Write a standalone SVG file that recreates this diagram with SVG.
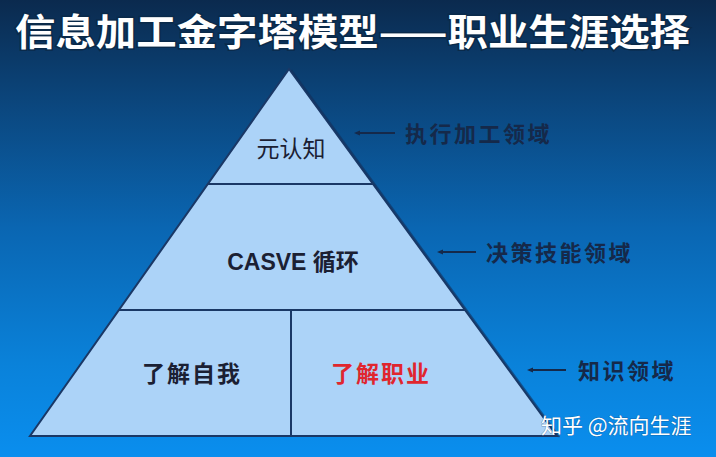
<svg xmlns="http://www.w3.org/2000/svg" width="716" height="457" viewBox="0 0 716 457">
  <defs>
    <linearGradient id="bg" x1="0" y1="0" x2="0" y2="1">
      <stop offset="0" stop-color="#0b2a4e"/>
      <stop offset="0.2" stop-color="#0b4378"/>
      <stop offset="0.5" stop-color="#0a66b2"/>
      <stop offset="0.8" stop-color="#0a82da"/>
      <stop offset="1" stop-color="#0a8eee"/>
    </linearGradient>
    <marker id="dot" viewBox="0 0 6 6" refX="3" refY="3" markerWidth="6" markerHeight="6" markerUnits="userSpaceOnUse">
      <path d="M0,3 L6,0.5 L6,5.5 Z" fill="#15294a"/>
    </marker>
    <style>
      .edge { stroke: #1a3866; stroke-width: 2; fill: none; }
      .t { font-family: "Liberation Sans", "Noto Sans CJK SC", sans-serif; fill: #1b2033; font-size: 23px; text-anchor: middle; }
      .lbl { font-family: "Noto Sans CJK SC", sans-serif; fill: #15294a; font-size: 22px; font-weight: bold; letter-spacing: 2.5px; }
      .arrow { stroke: #15294a; stroke-width: 2; marker-start: url(#dot); }
    </style>
  </defs>
  <rect width="716" height="457" fill="url(#bg)"/>

  <text x="15" y="46" font-family="Noto Sans CJK SC, sans-serif" font-size="37" font-weight="bold" fill="#ffffff" stroke="#0a2a4a" stroke-width="3" paint-order="stroke" textLength="675" lengthAdjust="spacingAndGlyphs">信息加工金字塔模型——职业生涯选择</text>

  <g id="pyramid">
    <polygon points="289,69 557,436 30,436" fill="#acd3f8" stroke="#1a3866" stroke-width="2" stroke-linejoin="miter"/>
    <line x1="558" y1="437" x2="290" y2="70" stroke="#14305a" stroke-width="1.5" opacity="0.6" transform="translate(1.5,0)"/>
  </g>

  <g id="metacognition">
    <line class="edge" x1="208" y1="184" x2="373" y2="184"/>
    <text class="t" x="291" y="157">元认知</text>
  </g>

  <g id="casve">
    <line class="edge" x1="119" y1="310" x2="465" y2="310"/>
    <text class="t" x="293" y="270" font-weight="bold" font-size="24">CASVE 循环</text>
  </g>

  <g id="self-knowledge">
    <line class="edge" x1="291" y1="310" x2="291" y2="436"/>
    <text class="t" x="192" y="382" font-weight="bold" letter-spacing="2">了解自我</text>
  </g>

  <g id="occupational-knowledge">
    <text class="t" x="381" y="382" font-weight="bold" letter-spacing="2" style="fill:#e0262e">了解职业</text>
  </g>

  <g id="connectors">
    <line class="arrow" x1="357" y1="133" x2="395" y2="133"/>
    <line class="arrow" x1="440" y1="252" x2="476" y2="252"/>
    <line class="arrow" x1="530" y1="370" x2="566" y2="370"/>
  </g>

  <g id="labels">
    <text class="lbl" x="405" y="142">执行加工领域</text>
    <text class="lbl" x="486" y="261">决策技能领域</text>
    <text class="lbl" x="578" y="379">知识领域</text>
  </g>

  <text x="541" y="433" font-family="Noto Sans CJK SC, sans-serif" font-size="21" fill="#ffffff" stroke="#0a3a6a" stroke-width="1" stroke-opacity="0.4" paint-order="stroke">知乎 @流向生涯</text>
</svg>
